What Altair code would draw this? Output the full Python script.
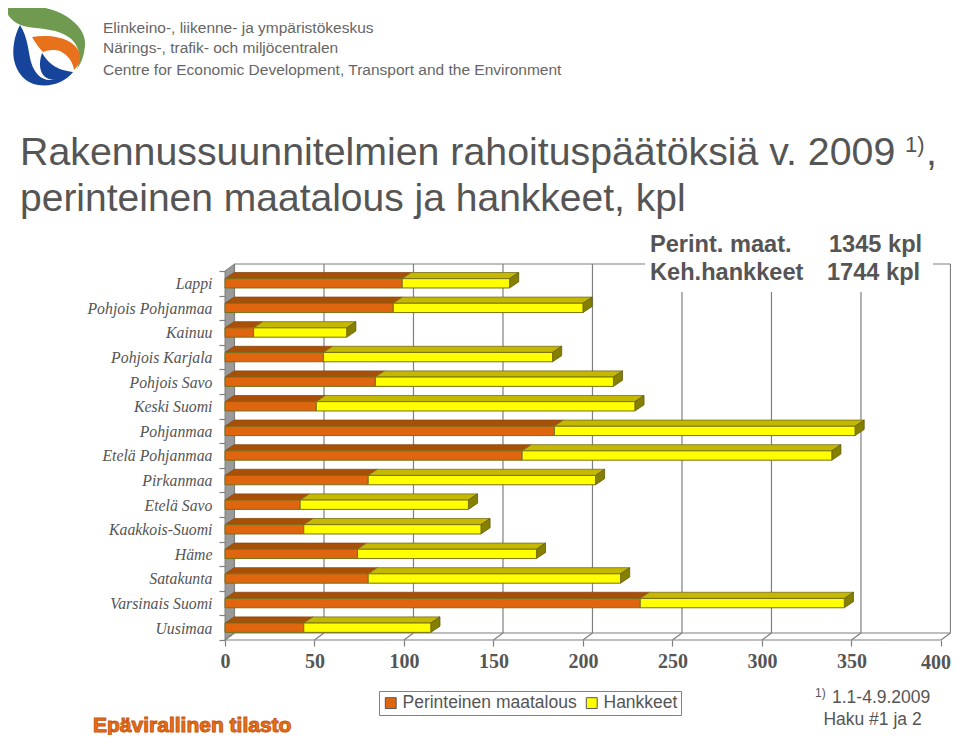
import altair as alt
import pandas as pd

regions = ["Lappi", "Pohjois Pohjanmaa", "Kainuu", "Pohjois Karjala", "Pohjois Savo", "Keski Suomi",
           "Pohjanmaa", "Etelä Pohjanmaa", "Pirkanmaa", "Etelä Savo", "Kaakkois-Suomi", "Häme",
           "Satakunta", "Varsinais Suomi", "Uusimaa"]
perinteinen = [99, 94, 16, 55, 84, 51, 184, 166, 80, 42, 44, 74, 80, 232, 44]
hankkeet = [60, 106, 52, 128, 133, 178, 168, 173, 127, 94, 99, 100, 141, 114, 71]
x_ticks = [0, 50, 100, 150, 200, 250, 300, 350, 400]
series_names = ["Perinteinen maatalous", "Hankkeet"]

ORANGE, ORANGE_TOP = "#e0650f", "#a85008"
YELLOW, YELLOW_TOP, YELLOW_SIDE = "#ffff00", "#c4b800", "#858000"
GRAY = "#555555"
LINE = "#7f7f7f"
EDGE = "#77701a"

# depth of the pseudo-3D projection, in data units
DX_WALL, DY_WALL = 5.3, 0.285
DX_BAR, DY_BAR = 5.1, 0.25
BAR_LO, BAR_HI = 0.31, 0.69
N = len(regions)
XMAX, YMAX = 405.6, 15.285
OX, OY = 225, 264  # page position of the plot origin

xs = alt.Scale(domain=[0, XMAX], nice=False, zero=False)
ys = alt.Scale(domain=[0, YMAX], nice=False, zero=False)

x_axis = alt.Axis(values=x_ticks, title=None, grid=False, domain=False, tickColor=LINE, tickSize=6, tickWidth=1.2,
                  labelFont="Liberation Serif", labelFontSize=20, labelFontWeight="bold", labelColor=GRAY,
                  labelPadding=5, labelAngle=0, labelFlush=False, labelOverlap=False, format="d",
                  labelExpr="datum.value == 400 ? '' : datum.label")
lab = "[" + ",".join(f"'{r}'" for r in reversed(regions)) + "]"
y_axis = alt.Axis(values=list(range(N + 1)), title=None, grid=False, domain=False, tickColor=LINE, tickSize=6,
                  tickWidth=1.2, labelFont="Liberation Serif", labelFontStyle="italic", labelFontSize=15.8,
                  labelColor=GRAY, labelPadding=7, labelOffset=-12, labelOverlap=False, labelFlush=False,
                  labelExpr=f"datum.value < {N} ? {lab}[datum.value] : ''")

X = lambda f="x", **k: alt.X(f"{f}:Q", scale=xs, axis=x_axis, **k)
Y = lambda f="y", **k: alt.Y(f"{f}:Q", scale=ys, axis=y_axis, **k)
X2 = alt.X2("x2:Q")
Y2 = alt.Y2("y2:Q")

front, top_o, top_y, side = [], [], [], []
for i, (r, p, h) in enumerate(zip(regions, perinteinen, hankkeet)):
    b = N - 1 - i
    lo, hi = b + BAR_LO, b + BAR_HI
    front.append({"r": r, "series": series_names[0], "x": 0, "x2": p, "y": lo, "y2": hi})
    front.append({"r": r, "series": series_names[1], "x": p, "x2": p + h, "y": lo, "y2": hi})
    top_o += [{"r": r, "x": 0, "x2": p, "y": hi}, {"r": r, "x": DX_BAR, "x2": p + DX_BAR, "y": hi + DY_BAR}]
    top_y += [{"r": r, "x": p, "x2": p + h, "y": hi}, {"r": r, "x": p + DX_BAR, "x2": p + h + DX_BAR, "y": hi + DY_BAR}]
    side += [{"r": r, "x": p + h, "y": lo, "y2": hi},
             {"r": r, "x": p + h + DX_BAR, "y": lo + DY_BAR, "y2": hi + DY_BAR}]

wall_df = pd.DataFrame([{"x": 0, "y": 0, "y2": N}, {"x": DX_WALL, "y": DY_WALL, "y2": N + DY_WALL}])
wall = alt.Chart(wall_df).mark_area(orient="vertical", fill="#9a9a9a", stroke=LINE, strokeWidth=1).encode(
    x=X(), y=Y(), y2=Y2)

grid_df = pd.DataFrame([{"x": v + DX_WALL, "y": DY_WALL, "y2": N + DY_WALL} for v in x_ticks])
grid = alt.Chart(grid_df).mark_rule(color=LINE, strokeWidth=1.2).encode(x=X(), y=Y(), y2=Y2)

edge_df = pd.DataFrame([
    {"x": 0, "x2": 400, "y": 0},
    {"x": DX_WALL, "x2": 400 + DX_WALL, "y": DY_WALL},
    {"x": DX_WALL, "x2": 400 + DX_WALL, "y": N + DY_WALL}])
edges = alt.Chart(edge_df).mark_rule(color=LINE, strokeWidth=1.2).encode(x=X(), x2=X2, y=Y())

floor_df = pd.DataFrame([p for v in x_ticks for p in ({"v": v, "x": v, "y": 0}, {"v": v, "x": v + DX_WALL, "y": DY_WALL})])
floor = alt.Chart(floor_df).mark_line(color=LINE, strokeWidth=1.2).encode(x=X(), y=Y(), detail="v:N")

# white box of the kpl note, hiding the upper part of the chart's back wall
note_box = alt.Chart(pd.DataFrame({"k": [0]})).mark_rect(fill="white").encode(
    x=alt.value(645 - OX), x2=alt.value(933 - OX), y=alt.value(233 - OY), y2=alt.value(292 - OY))

top_orange = alt.Chart(pd.DataFrame(top_o)).mark_area(orient="horizontal", fill=ORANGE_TOP, stroke="#8a4a10", strokeWidth=0.8).encode(
    x=X(), x2=X2, y=Y(), detail="r:N")
top_yellow = alt.Chart(pd.DataFrame(top_y)).mark_area(orient="horizontal", fill=YELLOW_TOP, stroke=EDGE, strokeWidth=0.8).encode(
    x=X(), x2=X2, y=Y(), detail="r:N")
sides = alt.Chart(pd.DataFrame(side)).mark_area(orient="vertical", fill=YELLOW_SIDE, stroke="#5f5c10", strokeWidth=0.8).encode(
    x=X(), y=Y(), y2=Y2, detail="r:N")
fronts = alt.Chart(pd.DataFrame(front)).mark_rect(stroke=EDGE, strokeWidth=1).encode(
    x=X(), x2=X2, y=Y(), y2=Y2,
    color=alt.Color("series:N", scale=alt.Scale(domain=series_names, range=[ORANGE, YELLOW]),
                    legend=alt.Legend(orient="none", legendX=379 - OX, legendY=691 - OY, direction="horizontal",
                                      title=None, fillColor="white", strokeColor="#808080", padding=3,
                                      labelFont="Liberation Sans", labelFontSize=17.5, labelColor=GRAY,
                                      symbolType="square", symbolSize=118, symbolStrokeColor="#555555",
                                      symbolStrokeWidth=1, symbolOpacity=1, columnPadding=6, labelOffset=3)))


def text(s, px, py, size, **kw):
    kw.setdefault("font", "Liberation Sans")
    kw.setdefault("color", GRAY)
    kw.setdefault("align", "left")
    return alt.Chart(pd.DataFrame({"t": [s]})).mark_text(baseline="alphabetic", fontSize=size, **kw).encode(
        text="t:N", x=alt.value(px - OX), y=alt.value(py - OY))


header_lines = ["Elinkeino-, liikenne- ja ympäristökeskus", "Närings-, trafik- och miljöcentralen",
                "Centre for Economic Development, Transport and the Environment"]
title_lines = ["Rakennussuunnitelmien rahoituspäätöksiä v. 2009", "perinteinen maatalous ja hankkeet, kpl"]

last_tick = alt.Chart(pd.DataFrame({"x": [400], "t": ["400"]})).mark_text(
    baseline="alphabetic", dx=-5, font="Liberation Serif", fontSize=20, fontWeight="bold", color=GRAY).encode(
    x=X(), y=alt.value(669 - OY), text="t:N")

texts = [
    text(header_lines[0], 103, 33, 15.5, color="#666666"),
    text(header_lines[1], 103, 53, 15.5, color="#666666"),
    text(header_lines[2], 103, 75, 15.5, color="#666666"),
    text(title_lines[0], 20, 165, 39.3),
    text("1)", 905, 152, 22),
    text(",", 926, 165, 39.3),
    text(title_lines[1], 20, 211, 39),
    text("Perint. maat.", 650, 252, 23.6, fontWeight="bold"),
    text("1345 kpl", 829, 252, 23.6, fontWeight="bold"),
    text("Keh.hankkeet", 650, 280, 23.6, fontWeight="bold"),
    text("1744 kpl", 827, 280, 23.6, fontWeight="bold"),
    text("1)", 815, 697, 12),
    text("1.1-4.9.2009", 832, 703, 17.5),
    text("Haku #1 ja 2", 872.5, 725, 17.5, align="center"),
    text("Epävirallinen tilasto", 93, 732, 21, fontWeight="bold", color="#e8701a", stroke="#c9560a", strokeWidth=1),
    last_tick,
]

logo_shapes = [
    ("#6f9a4f", "M4 5C25 4 50 6 66 16C80 25 86 35 85 46C84 55 82 62 77 69C81 58 80 46 70 38C58 29 42 29 28 27C16 25 7 18 4 5Z"),
    ("#e8711c", "M32 37C45 35 60 36 70 42C78 47 81 54 80 60C79 64 77 67 74 70C73 62 68 55 60 51C53 49 48 50 43 52C39 48 35 42 32 37Z"),
    ("#16449a", "M20 25C14 36 12 50 14 60C17 74 26 83 38 85C52 87 65 82 73 72C66 78 58 80 50 80C40 80 34 72 31 62C28 50 28 38 20 25Z"),
    ("#16449a", "M42 53C39 62 39 70 44 76C49 81 60 81 67 77C70 75 72 73 73 72C64 71 55 68 49 62C46 59 44 56 42 53Z"),
]
logo = [
    alt.Chart(pd.DataFrame({"k": [i]})).mark_point(filled=True, opacity=1, shape=path, size=4, fill=col, strokeWidth=0).encode(
        x=alt.value(-OX), y=alt.value(-OY))
    for i, (col, path) in enumerate(logo_shapes)
]

chart = alt.layer(wall, grid, edges, floor, note_box, top_orange, top_yellow, sides, fronts, *texts, *logo).properties(
    width=726, height=376, autosize=alt.AutoSizeParams(type="none"),
    padding={"left": 217, "top": 256, "right": 0, "bottom": 95},
).configure_view(stroke=None).configure_legend(labelLimit=300)

chart.save("out.html", embed_options={"renderer": "svg", "actions": False})
